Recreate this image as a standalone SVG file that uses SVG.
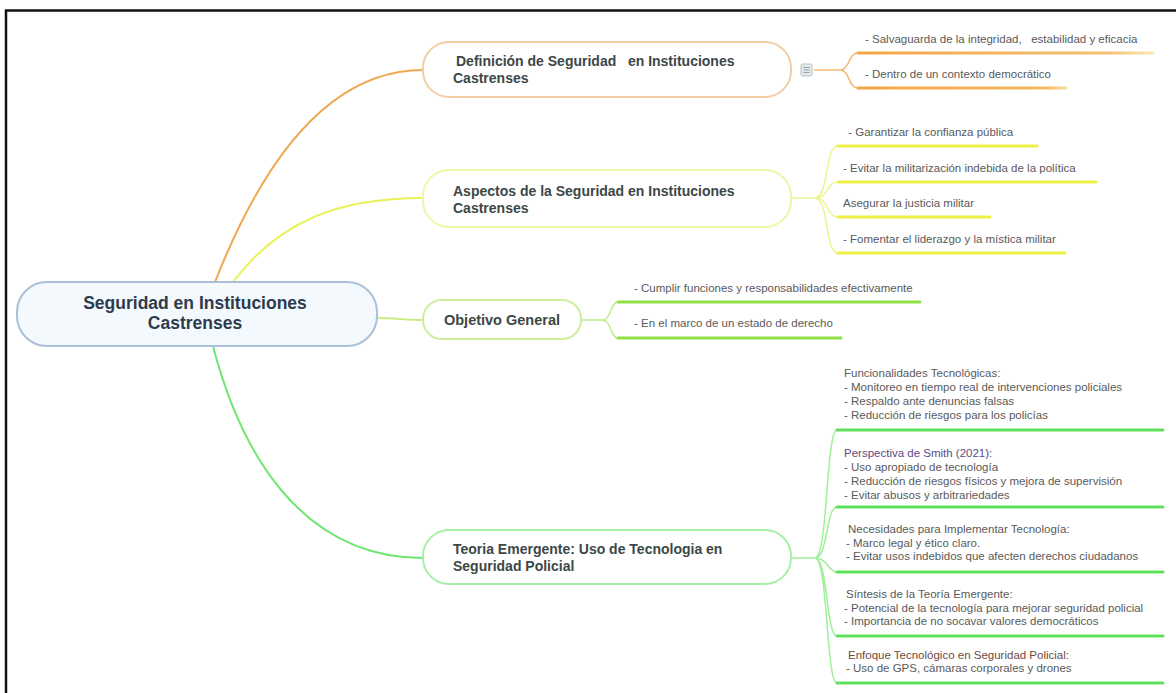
<svg xmlns="http://www.w3.org/2000/svg" width="1176" height="693" viewBox="0 0 1176 693">
<defs>
<linearGradient id="gOr1" gradientUnits="userSpaceOnUse" x1="858" y1="0" x2="1153" y2="0">
<stop offset="0" stop-color="#f2a645"/><stop offset="0.85" stop-color="#f4c070"/><stop offset="1" stop-color="#faeab0"/>
</linearGradient>
<linearGradient id="gOr2" gradientUnits="userSpaceOnUse" x1="858" y1="0" x2="1066" y2="0">
<stop offset="0" stop-color="#f2a645"/><stop offset="0.9" stop-color="#f4b860"/><stop offset="1" stop-color="#f8dca0"/>
</linearGradient>
<style>
.node{stroke-width:2}
.ntx{font-family:"Liberation Sans",Arial,sans-serif;font-weight:bold;font-size:14px;fill:#3c4747}
.root{font-family:"Liberation Sans",Arial,sans-serif;font-weight:bold;font-size:17.5px;fill:#2e3b4c;text-anchor:middle}
.ctx{font-family:"Liberation Sans",Arial,sans-serif;font-size:11.5px;fill:#5a5a5a;white-space:pre}
.con{fill:none;stroke-width:2}
.br{fill:none;stroke-width:1.5}
.ul{fill:none;stroke-width:3;stroke-linecap:round}
</style>
</defs>
<rect x="0" y="0" width="1176" height="693" fill="#ffffff"/>
<path d="M6,693 V10.5 H1176" fill="none" stroke="#111" stroke-width="2.5"/>

<g id="connectors">
<path class="con" d="M215,282 C255,180 320,70 423,70" stroke="#f0a650"/>
<path class="con" d="M233,282 C280,220 340,198 423,198" stroke="#eaf25a"/>
<path class="con" d="M377,318 C395,318 405,320 423,320" stroke="#c6ef86"/>
<path class="con" d="M213,346 C240,450 300,558 423,558" stroke="#6fe66f"/>
<path class="br" d="M814,70 H840" stroke="#f2b870"/>
<path class="br" d="M840,70 C850,70 848,53 858,53 M840,70 C850,70 848,88 858,88" stroke="#f2b870"/>
<path class="br" d="M791,198 H814 M814,198 C830,198 824,146 838,146 M814,198 C830,198 826,182 838,182 M814,198 C830,198 826,217 838,217 M814,198 C830,198 824,253 838,253" stroke="#eef590"/>
<path class="br" d="M581,320 H602 M602,320 C612,320 610,302 618,302 M602,320 C612,320 610,338 618,338" stroke="#bfeb8a"/>
<path class="br" d="M792,558 H815 M815,558 C828,558 826,430 837,430 M815,558 C828,558 826,507 837,507 M815,558 C828,558 828,572 837,572 M815,558 C828,558 826,636 837,636 M815,558 C828,558 826,683 837,683" stroke="#9ff09a"/>
</g>

<g id="root">
<rect x="17" y="282" width="360" height="64" rx="30" fill="#f4f9fd" stroke="#a9c0d8" class="node"/>
<text class="root" x="195" y="309">Seguridad en Instituciones</text>
<text class="root" x="195" y="329">Castrenses</text>
</g>

<g id="definicion">
<rect x="423" y="42" width="368" height="55" rx="26" fill="#ffffff" stroke="#f3cda6" class="node"/>
<text class="ntx" x="456" y="66" style="white-space:pre">Definición de Seguridad   en Instituciones</text>
<text class="ntx" x="453" y="83">Castrenses</text>
<g id="collapse-icon">
<rect x="801" y="64" width="11" height="12" rx="1.5" fill="#e4e8ea" stroke="#b8c2c6" stroke-width="1"/>
<path d="M803.5,67.5 H809.5 M803.5,70 H809.5 M803.5,72.5 H809.5" stroke="#98a4a8" stroke-width="1"/>
</g>
</g>
<g id="def-1">
<text class="ctx" x="865" y="43">- Salvaguarda de la integridad,   estabilidad y eficacia</text>
<path class="ul" d="M858,53 H1153" stroke="url(#gOr1)"/>
</g>
<g id="def-2">
<text class="ctx" x="865" y="78">- Dentro de un contexto democrático</text>
<path class="ul" d="M858,88 H1066" stroke="url(#gOr2)"/>
</g>

<g id="aspectos">
<rect x="423" y="170" width="368" height="57" rx="26" fill="#ffffff" stroke="#eef6a6" class="node"/>
<text class="ntx" x="453" y="196">Aspectos de la Seguridad en Instituciones</text>
<text class="ntx" x="453" y="213">Castrenses</text>
</g>
<g id="asp-1">
<text class="ctx" x="845" y="136"> - Garantizar la confianza pública</text>
<path class="ul" d="M838,146 H1037" stroke="#eef044"/>
</g>
<g id="asp-2">
<text class="ctx" x="843" y="172">- Evitar la militarización indebida de la política</text>
<path class="ul" d="M838,182 H1096" stroke="#eef044"/>
</g>
<g id="asp-3">
<text class="ctx" x="843" y="207">Asegurar la justicia militar</text>
<path class="ul" d="M838,217 H990" stroke="#eef044"/>
</g>
<g id="asp-4">
<text class="ctx" x="843" y="243">- Fomentar el liderazgo y la mística militar</text>
<path class="ul" d="M838,253 H1065" stroke="#eef044"/>
</g>

<g id="objetivo">
<rect x="423" y="300" width="158" height="39" rx="19" fill="#ffffff" stroke="#cdee9e" class="node"/>
<text class="ntx" x="502" y="325" text-anchor="middle" style="font-size:14.5px">Objetivo General</text>
</g>
<g id="obj-1">
<text class="ctx" x="634" y="292">- Cumplir funciones y responsabilidades efectivamente</text>
<path class="ul" d="M618,302 H920" stroke="#8fe044"/>
</g>
<g id="obj-2">
<text class="ctx" x="634" y="327">- En el marco de un estado de derecho</text>
<path class="ul" d="M618,338 H841" stroke="#8fe044"/>
</g>

<g id="teoria">
<rect x="423" y="530" width="368" height="54" rx="26" fill="#ffffff" stroke="#a6f0a6" class="node"/>
<text class="ntx" x="453" y="554">Teoria Emergente: Uso de Tecnologia en</text>
<text class="ntx" x="453" y="571">Seguridad Policial</text>
</g>
<g id="teo-1">
<text class="ctx" x="844" y="377">Funcionalidades Tecnológicas:</text>
<text class="ctx" x="844" y="391">- Monitoreo en tiempo real de intervenciones policiales</text>
<text class="ctx" x="844" y="405">- Respaldo ante denuncias falsas</text>
<text class="ctx" x="844" y="419">- Reducción de riesgos para los policías</text>
<path class="ul" d="M837,430 H1163" stroke="#5fe05a"/>
</g>
<g id="teo-2">
<text class="ctx" x="844" y="457" style="fill:#5c4a86">Perspectiva de Smith (2021):</text>
<text class="ctx" x="844" y="471">- Uso apropiado de tecnología</text>
<text class="ctx" x="844" y="485">- Reducción de riesgos físicos y mejora de supervisión</text>
<text class="ctx" x="844" y="499">- Evitar abusos y arbitrariedades</text>
<path class="ul" d="M837,507 H1163" stroke="#5fe05a"/>
</g>
<g id="teo-3">
<text class="ctx" x="848" y="533">Necesidades para Implementar Tecnología:</text>
<text class="ctx" x="846" y="547">- Marco legal y ético claro.</text>
<text class="ctx" x="846" y="560">- Evitar usos indebidos que afecten derechos ciudadanos</text>
<path class="ul" d="M837,572 H1163" stroke="#5fe05a"/>
</g>
<g id="teo-4">
<text class="ctx" x="846" y="598">Síntesis de la Teoría Emergente:</text>
<text class="ctx" x="844" y="612">- Potencial de la tecnología para mejorar seguridad policial</text>
<text class="ctx" x="844" y="625">- Importancia de no socavar valores democráticos</text>
<path class="ul" d="M837,636 H1163" stroke="#5fe05a"/>
</g>
<g id="teo-5">
<text class="ctx" x="848" y="659" style="fill:#6e4a46">Enfoque Tecnológico en Seguridad Policial:</text>
<text class="ctx" x="846" y="672">- Uso de GPS, cámaras corporales y drones</text>
<path class="ul" d="M837,683 H1163" stroke="#5fe05a"/>
</g>
</svg>
